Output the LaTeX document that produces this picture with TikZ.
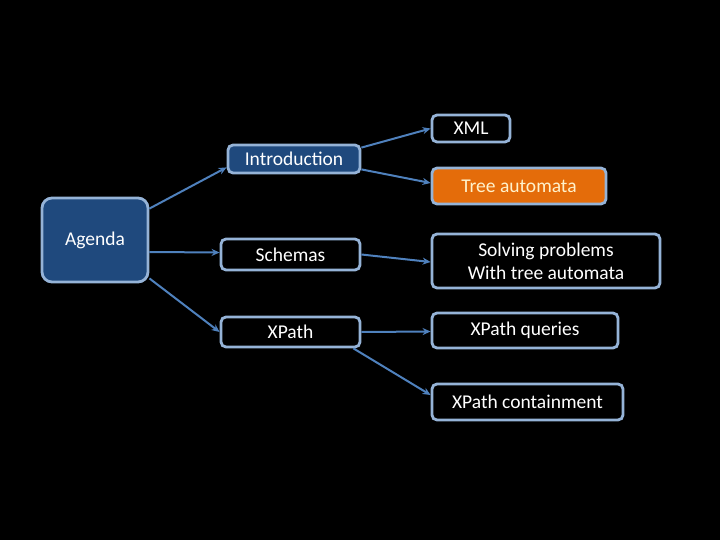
\documentclass[tikz,border=0pt]{standalone}
\usepackage{fontspec}
\setmainfont{Carlito}
\usetikzlibrary{arrows.meta}
\definecolor{bordc}{HTML}{95B3D7}
\definecolor{darkb}{HTML}{1F497D}
\definecolor{orng}{HTML}{E46C0A}
\definecolor{arrc}{HTML}{4F81BD}
\definecolor{cream}{HTML}{FFF2CC}
\tikzset{
  box/.style={draw=bordc, line width=2.8pt, rounded corners=5pt, inner sep=0pt, text=white, align=center, font=\fontsize{19.5}{23}\selectfont},
  conn/.style={draw=arrc, line width=2pt, -{Stealth[length=8pt,width=7pt]}}
}
\begin{document}
\begin{tikzpicture}[x=1pt,y=-1pt]
\fill[black] (0,0) rectangle (720,540);
\useasboundingbox (0,0) rectangle (720,540);
\node[box, fill=darkb, rounded corners=10pt, minimum width=106pt, minimum height=84pt] (agenda) at (95,240) {Agenda};
\node[box, fill=darkb, minimum width=132pt, minimum height=28pt] (intro) at (294,159) {Introduction};
\node[box, fill=black, minimum width=78pt, minimum height=27pt] (xml) at (471,128.5) {XML};
\node[box, fill=orng, text=cream, minimum width=174pt, minimum height=36pt] (tree) at (519,186) {Tree automata};
\node[box, fill=black, minimum width=139pt, minimum height=31pt] (schemas) at (290.5,254.5) {Schemas};
\node[box, fill=black, minimum width=139pt, minimum height=30pt] (xpath) at (290.5,332) {XPath};
\node[box, fill=black, minimum width=228pt, minimum height=54pt] (solving) at (546,261) {Solving problems\\With tree automata};
\node[box, fill=black, minimum width=186pt, minimum height=35pt] (xq) at (525,330.5) {XPath queries};
\node[box, fill=black, minimum width=191pt, minimum height=36pt] (xc) at (527.5,402) {XPath containment};
\draw[conn] ([yshift=-12pt]agenda.north east) -- ([yshift=7pt]intro.south west);
\draw[conn] ([yshift=-12pt]agenda.east) -- ([yshift=2pt]schemas.west);
\draw[conn] ([yshift=5pt]agenda.south east) -- (xpath.west);
\draw[conn] ([yshift=-4pt]intro.north east) -- (xml.west);
\draw[conn] ([yshift=5pt]intro.south east) -- ([yshift=3pt]tree.west);
\draw[conn] ([yshift=0pt]schemas.east) -- ([yshift=-1pt]solving.west);
\draw[conn] (xpath.east) -- ([yshift=-1pt]xq.west);
\draw[conn] ([xshift=-8pt]xpath.south east) -- ([yshift=7pt]xc.west);
\end{tikzpicture}
\end{document}
